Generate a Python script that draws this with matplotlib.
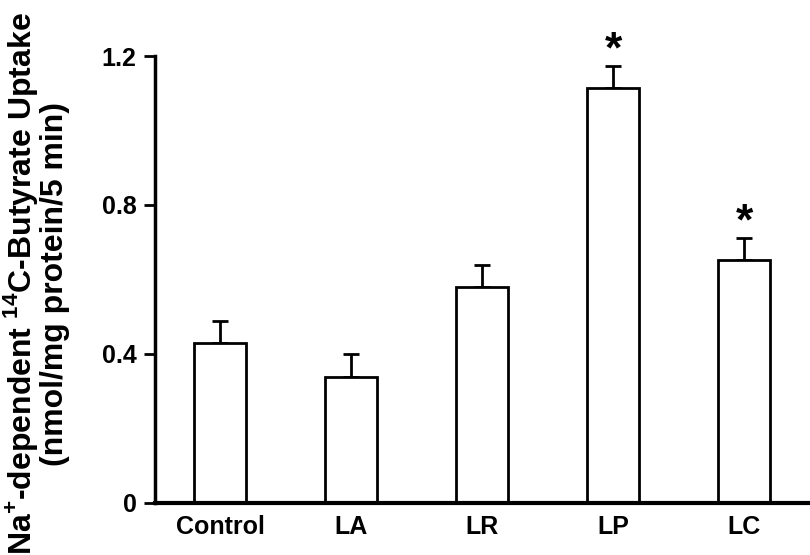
import numpy as np
from matplotlib import pyplot as plt

groups = ["Control", "LA", "LR", "LP", "LC"]
uptake = [0.43, 0.338, 0.579, 1.113, 0.652]
sem = [0.059, 0.062, 0.061, 0.061, 0.059]
significant = [False, False, False, True, True]

plt.rcParams['font.family'] = ['Liberation Sans', 'DejaVu Sans']
plt.rcParams['font.weight'] = 'bold'
plt.rcParams['mathtext.fontset'] = 'custom'
plt.rcParams['mathtext.rm'] = 'Liberation Sans:bold'
plt.rcParams['mathtext.bf'] = 'Liberation Sans:bold'

fig = plt.figure(figsize=(8.1, 5.55), dpi=100)
ax = fig.add_axes([0.191, 0.094, 0.807, 0.805])

x = np.arange(len(groups))
ax.bar(x, uptake, width=0.4, color="white", edgecolor="black", linewidth=2, zorder=2)
ax.errorbar(x, uptake, yerr=[np.zeros(len(sem)), sem], fmt="none", ecolor="black",
            elinewidth=2, capsize=6, capthick=2, zorder=1)

# significance markers above the error caps
for xi, m, e, sig in zip(x, uptake, sem, significant):
    if sig:
        ax.text(xi, m + e + 0.04, "*", ha="center", va="center", fontsize=32,
                fontweight="bold", clip_on=False)

ax.set_xlim(-0.5, 4.49)
ax.set_ylim(0, 1.2)
ax.set_yticks([0, 0.4, 0.8, 1.2])
ax.set_yticklabels(["0", "0.4", "0.8", "1.2"])
ax.set_xticks(x)
ax.set_xticklabels(groups)
ax.tick_params(axis="y", direction="out", length=8, width=2, labelsize=18, pad=5)
ax.tick_params(axis="x", length=0, labelsize=18, pad=9)

for side in ["top", "right"]:
    ax.spines[side].set_visible(False)
ax.spines['left'].set_linewidth(2.5)
ax.spines['bottom'].set_linewidth(3)

ax.set_ylabel("Na$^{+}$-dependent $^{14}$C-Butyrate Uptake\n(nmol/mg protein/5 min)",
              fontsize=23, fontweight="bold", linespacing=1.0)
ax.yaxis.set_label_coords(-0.13, 0.49)

plt.savefig("out.png", dpi=100)
plt.close()
